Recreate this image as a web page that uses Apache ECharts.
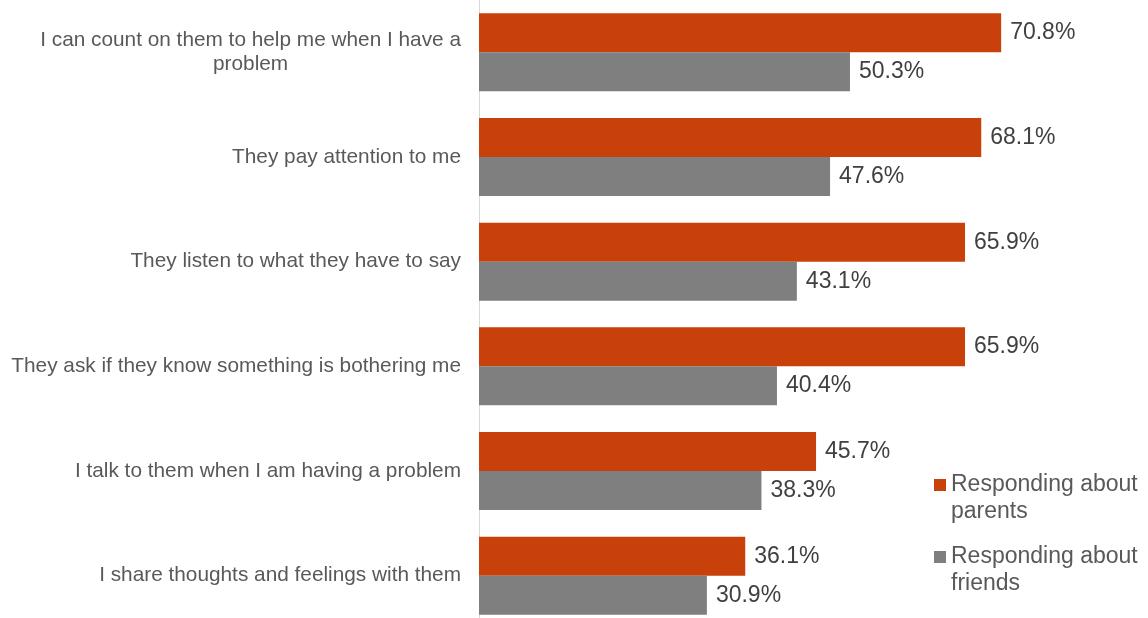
<!DOCTYPE html>
<html>
<head>
<meta charset="utf-8">
<script src="https://cdn.jsdelivr.net/npm/echarts@6/dist/echarts.min.js"></script>
<style>
  html, body { margin: 0; padding: 0; background: #fff; }
  #chart { width: 1148px; height: 618px; }
</style>
</head>
<body>
<div id="chart"></div>
<script>
var categories = [
  'I can count on them to help me when I have a\nproblem',
  'They pay attention to me',
  'They listen to what they have to say',
  'They ask if they know something is bothering me',
  'I talk to them when I am having a problem',
  'I share thoughts and feelings with them'
];
var parentsVals = [70.8, 68.1, 65.9, 65.9, 45.7, 36.1];
var friendsVals = [50.3, 47.6, 43.1, 40.4, 38.3, 30.9];
var seriesNames = ['Responding about\nparents', 'Responding about\nfriends'];

var FONT = 'Liberation Sans, Arial, sans-serif';
var myChart = echarts.init(document.getElementById('chart'));

function pct(p) { return p.value.toFixed(1) + '%'; }

myChart.setOption({
  animation: false,
  grid: {
    left: 479,
    right: 79,
    top: 0,
    height: 628,
    containLabel: false,
    outerBoundsMode: 'none'
  },
  legend: {
    orient: 'vertical',
    left: 934,
    top: 471,
    padding: 0,
    itemWidth: 12,
    itemHeight: 54,
    itemGap: 18,
    itemTextGap: 5,
    // square sits level with the first text line
    icon: 'path://M0,0L0.01,0M0,8H12V20H0ZM0,54L0.01,54',
    textStyle: {
      color: '#595959',
      fontSize: 23,
      fontFamily: FONT,
      lineHeight: 27
    },
    data: seriesNames
  },
  xAxis: {
    type: 'value',
    min: 0,
    max: 80,
    show: false
  },
  yAxis: {
    type: 'category',
    inverse: true,
    data: categories,
    axisTick: { show: false },
    axisLine: { lineStyle: { color: '#D9D9D9', width: 1 } },
    axisLabel: {
      margin: 18,
      align: 'right',
      color: '#595959',
      fontSize: 20.8,
      fontFamily: FONT,
      formatter: function (v) {
        // multi-line labels get their lines centered, like the original
        return v.split('\n').map(function (s) { return '{c|' + s + '}'; }).join('\n');
      },
      rich: {
        c: {
          align: 'center',
          color: '#595959',
          fontSize: 20.8,
          lineHeight: 24,
          fontFamily: FONT
        }
      }
    }
  },
  series: [
    {
      name: seriesNames[0],
      type: 'bar',
      data: parentsVals,
      barWidth: 39,
      barGap: '0%',
      itemStyle: { color: '#C8410B' },
      label: {
        show: true,
        position: 'right',
        distance: 9,
        color: '#404040',
        fontSize: 23,
        fontFamily: FONT,
        formatter: pct
      }
    },
    {
      name: seriesNames[1],
      type: 'bar',
      data: friendsVals,
      barWidth: 39,
      barGap: '0%',
      itemStyle: { color: '#7F7F7F' },
      label: {
        show: true,
        position: 'right',
        distance: 9,
        color: '#404040',
        fontSize: 23,
        fontFamily: FONT,
        formatter: pct
      }
    }
  ]
});
</script>
</body>
</html>
